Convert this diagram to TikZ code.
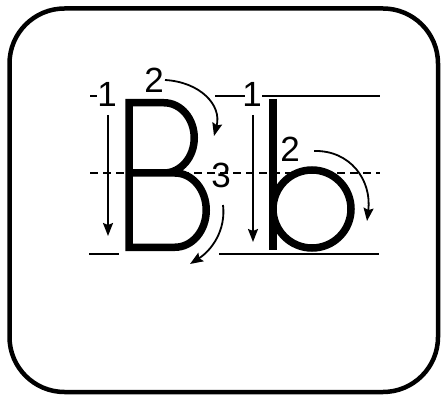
\documentclass[tikz,border=0pt]{standalone}
\usepackage{fontspec}
\setmainfont{Liberation Sans}
\usetikzlibrary{arrows.meta}
\tikzset{
  guide/.style={line width=2pt},
  guidedash/.style={line width=1.2pt, dash pattern=on 8pt off 5pt},
  letter/.style={line width=7.5pt, line join=miter},
  strokearrow/.style={line width=1.8pt, -{Stealth[length=13pt,width=10pt,inset=2pt]}},
  num/.style={inner sep=0pt, anchor=base, font=\fontsize{35}{40}\selectfont}
}
\begin{document}
\begin{tikzpicture}[x=1pt,y=1pt]
\useasboundingbox (0,0) rectangle (443,396);
% frame
\draw[line width=4.5pt, rounded corners=55pt] (9.5,4) rectangle (438,387.5);
% guide lines
\draw[guide] (90,300) -- (97,300);
\draw[guide] (215,300) -- (245,300);
\draw[guide] (262,300) -- (380,300);
\draw[guidedash] (90,223) -- (380,223);
\draw[guide] (89,142) -- (119,142);
\draw[guide] (219,142) -- (379,142);
% letter B
\draw[letter] (129,148.75) -- (129,293.25) -- (164,293.25)
  arc[start angle=90, end angle=-90, x radius=30.25, y radius=35.125]
  -- (129,223) -- (175,223)
  arc[start angle=90, end angle=-90, x radius=31.25, y radius=37.125]
  -- cycle;
% letter b
\draw[letter] (273,297) -- (273,146);
\draw[letter] (312,187) circle[radius=39];
% stroke order labels
\node[num] (B1) at (107,289) {1};
\node[num] (B2) at (154,303) {2};
\node[num] (B3) at (221,208) {3};
\node[num] (b1) at (252,289) {1};
\node[num] (b2) at (290,234) {2};
% stroke arrows
\coordinate (B1s) at (108,281); \coordinate (B1e) at (108,160);
\coordinate (b1s) at (253,281); \coordinate (b1e) at (253,154);
\draw[strokearrow] (B1s) -- (B1e);
\draw[strokearrow] (b1s) -- (b1e);
\draw[strokearrow] (165,316) .. controls (200,314) and (222,291) .. (214,260);
\draw[strokearrow] (223,191) .. controls (226,166) and (212,146) .. (190,132);
\draw[strokearrow] (314,245) .. controls (350,246) and (372,216) .. (367,175);
\end{tikzpicture}
\end{document}
